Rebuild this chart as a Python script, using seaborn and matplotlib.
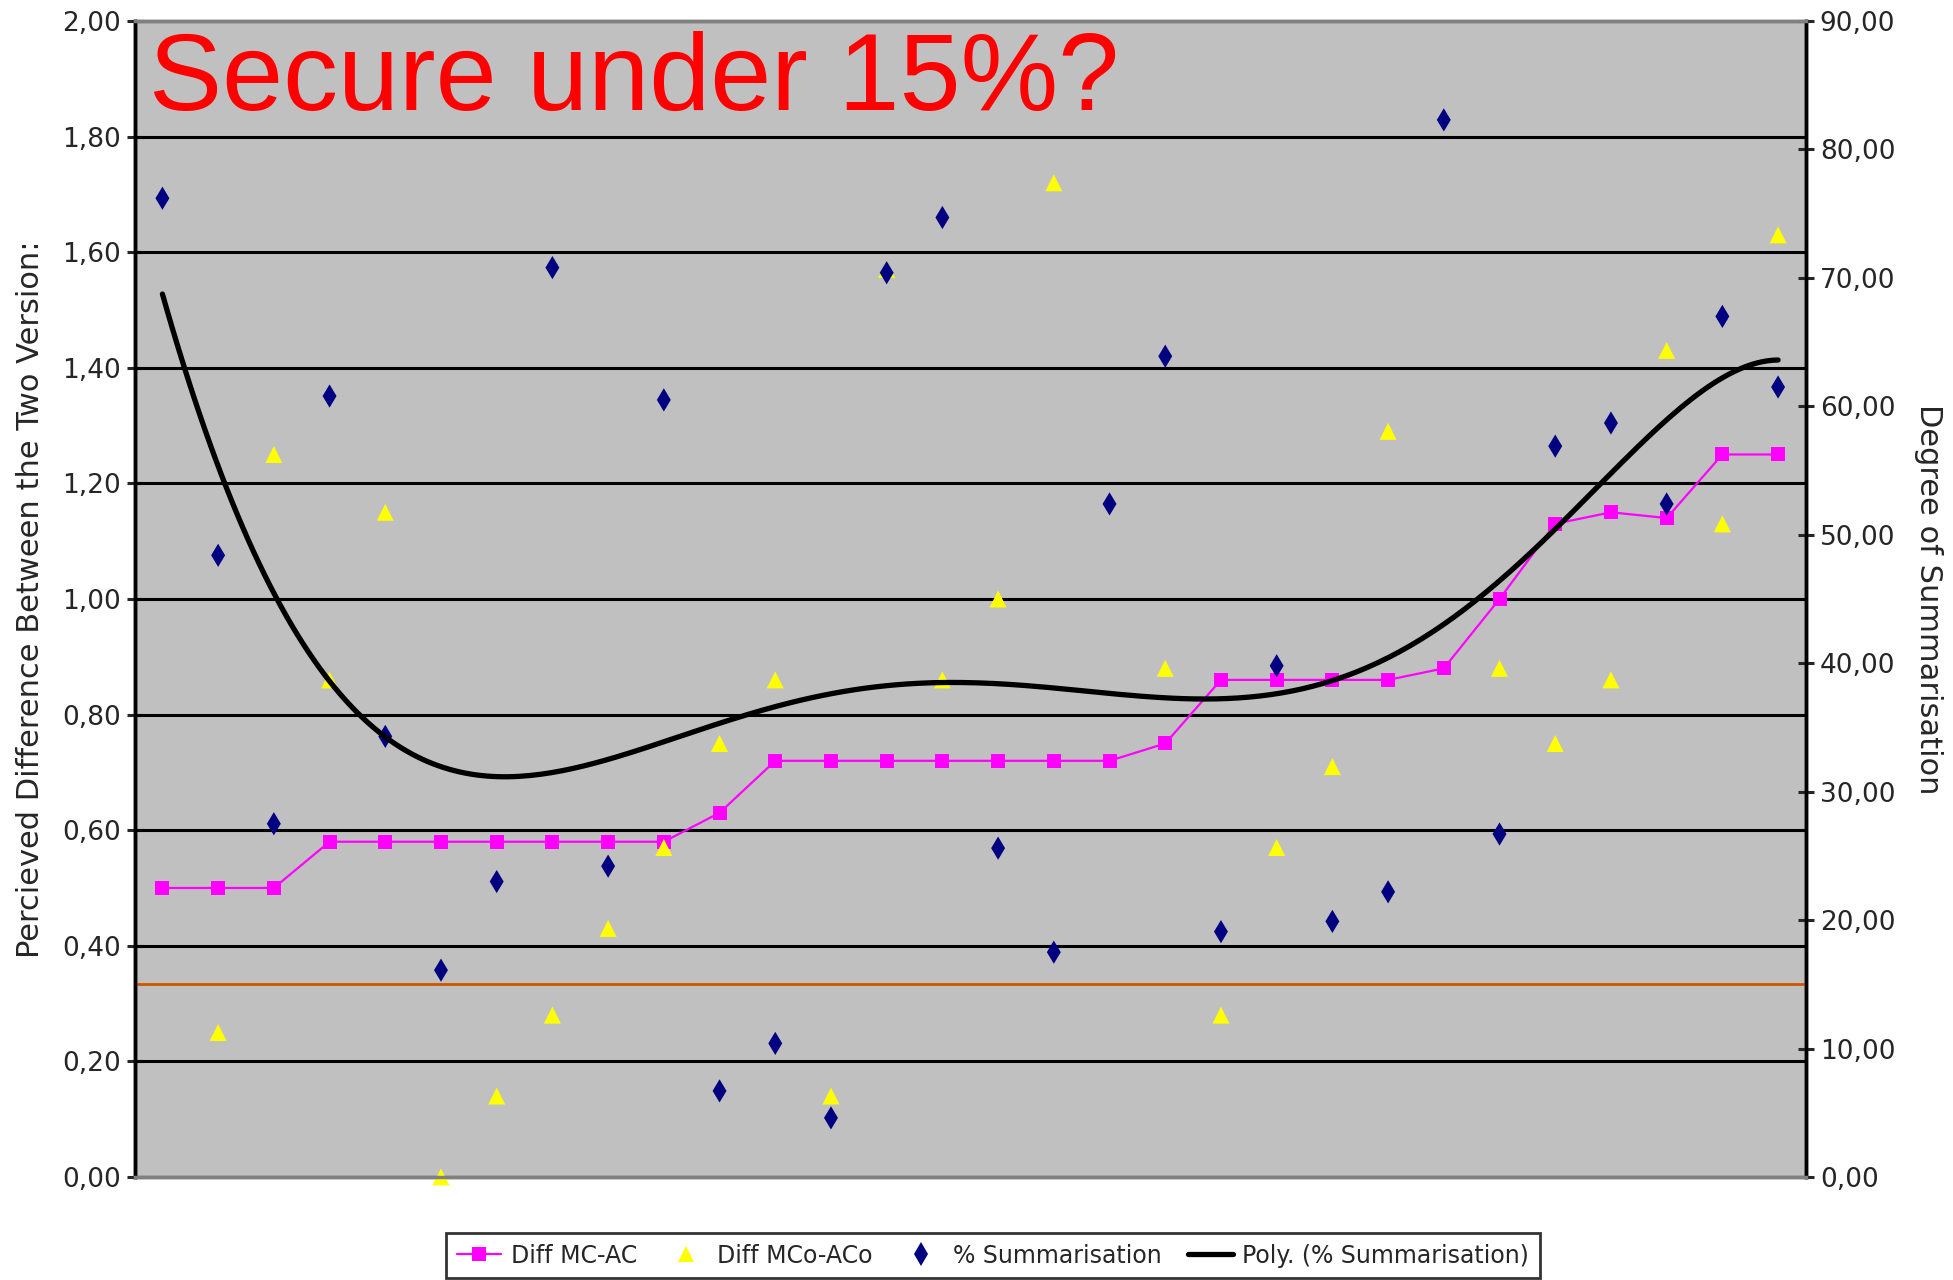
import numpy as np
import pandas as pd
import matplotlib
matplotlib.use("Agg")
import matplotlib.pyplot as plt
import seaborn as sns
from matplotlib.ticker import FuncFormatter, MultipleLocator
from matplotlib.lines import Line2D

# data (30 test cases)
cases = np.arange(1, 31)
diff_mc_ac = [0.50, 0.50, 0.50, 0.58, 0.58, 0.58, 0.58, 0.58, 0.58, 0.58,
              0.63, 0.72, 0.72, 0.72, 0.72, 0.72, 0.72, 0.72, 0.75, 0.86,
              0.86, 0.86, 0.86, 0.88, 1.00, 1.13, 1.15, 1.14, 1.25, 1.25]
diff_mco_aco = [np.nan, 0.25, 1.25, 0.86, 1.15, 0.00, 0.14, 0.28, 0.43, 0.57,
                0.75, 0.86, 0.14, 1.57, 0.86, 1.00, 1.72, np.nan, 0.88, 0.28,
                0.57, 0.71, 1.29, np.nan, 0.88, 0.75, 0.86, 1.43, 1.13, 1.63]
pct_summ = [76.2, 48.4, 27.5, 60.8, 34.3, 16.1, 23.0, 70.8, 24.2, 60.5,
            6.7, 10.4, 4.6, 70.4, 74.7, 25.6, 17.5, 52.4, 63.9, 19.1,
            39.8, 19.9, 22.2, 82.3, 26.7, 56.9, 58.7, 52.4, 67.0, 61.5]
threshold = 15

df = pd.DataFrame({"case": cases, "mc_ac": diff_mc_ac,
                   "mco_aco": diff_mco_aco, "summ": pct_summ})

# polynomial trendline like Excel (order 6)
coef = np.polyfit(df["case"], df["summ"], 6)
xs = np.linspace(1, 30, 300)
trend = np.polyval(coef, xs)

sns.set_style("white")
plt.rcParams["font.family"] = ["DejaVu Sans"]

fig = plt.figure(figsize=(19.53, 12.8), dpi=100)
ax = fig.add_axes([0.0689, 0.0805, 0.8558, 0.9031])
ax2 = ax.twinx()
ax.set_facecolor("#C0C0C0")

ax.set_xlim(0.5, 30.5)
ax.set_ylim(0, 2.0)
ax2.set_ylim(0, 90)
ax.set_xticks([])

for v in np.arange(0.2, 1.81, 0.2):
    ax.axhline(v, color="black", lw=2.2, zorder=1)

sns.lineplot(data=df, x="case", y="mc_ac", ax=ax, color="#FF00FF", lw=1.6,
             marker="s", markersize=10, markeredgewidth=0, zorder=3)
sns.scatterplot(data=df, x="case", y="mco_aco", ax=ax, marker="^", s=150,
                color="#FFFF00", edgecolor="none", zorder=4, clip_on=False)

ax2.axhline(threshold, color="#CC5500", lw=2, zorder=2)
sns.scatterplot(data=df, x="case", y="summ", ax=ax2, marker="d", s=140,
                color="#000080", edgecolor="none", zorder=3)
ax2.plot(xs, trend, color="black", lw=3.8, zorder=4)

fmt = FuncFormatter(lambda v, p: f"{v:.2f}".replace(".", ","))
ax.yaxis.set_major_locator(MultipleLocator(0.2))
ax.yaxis.set_major_formatter(fmt)
ax2.yaxis.set_major_locator(MultipleLocator(10))
ax2.yaxis.set_major_formatter(fmt)
ax.tick_params(axis="y", direction="inout", length=12, width=2.2,
               labelsize=19, pad=4, left=True)
ax2.tick_params(axis="y", direction="inout", length=12, width=2.2,
                labelsize=19, pad=4, right=True)

ax.set_xlabel("")
ax.set_ylabel("Percieved Difference Between the Two Version:", fontsize=22,
              labelpad=12)
ax2.set_ylabel("Degree of Summarisation", fontsize=22, rotation=270,
               labelpad=34)

for a in (ax, ax2):
    a.spines["top"].set_color("#808080")
    a.spines["bottom"].set_color("#808080")
    a.spines["top"].set_linewidth(2.5)
    a.spines["bottom"].set_linewidth(2.5)
    a.spines["left"].set_color("black")
    a.spines["right"].set_color("black")
    a.spines["left"].set_linewidth(2.5)
    a.spines["right"].set_linewidth(2.5)

ax.text(0.0087, 0.923, "Secure under 15%?", transform=ax.transAxes,
        color="red", fontsize=79, family="Liberation Sans", va="baseline")

handles = [
    Line2D([], [], color="#FF00FF", lw=1.6, marker="s", markersize=10,
           markeredgewidth=0),
    Line2D([], [], color="none", marker="^", markersize=12,
           markerfacecolor="#FFFF00", markeredgewidth=0),
    Line2D([], [], color="none", marker="d", markersize=12,
           markerfacecolor="#000080", markeredgewidth=0),
    Line2D([], [], color="black", lw=3.8),
]
labels = ["Diff MC-AC", "Diff MCo-ACo", "% Summarisation",
          "Poly. (% Summarisation)"]
leg = fig.legend(handles, labels, loc="upper left",
                 bbox_to_anchor=(446 / 1953, 1 - 1233 / 1280), ncol=4,
                 fontsize=17, frameon=True, fancybox=False, edgecolor="black",
                 handlelength=1.9, handletextpad=0.4, columnspacing=1.1,
                 borderpad=0.45, borderaxespad=0)
leg.get_frame().set_linewidth(2)

fig.savefig("out.png", dpi=100)
